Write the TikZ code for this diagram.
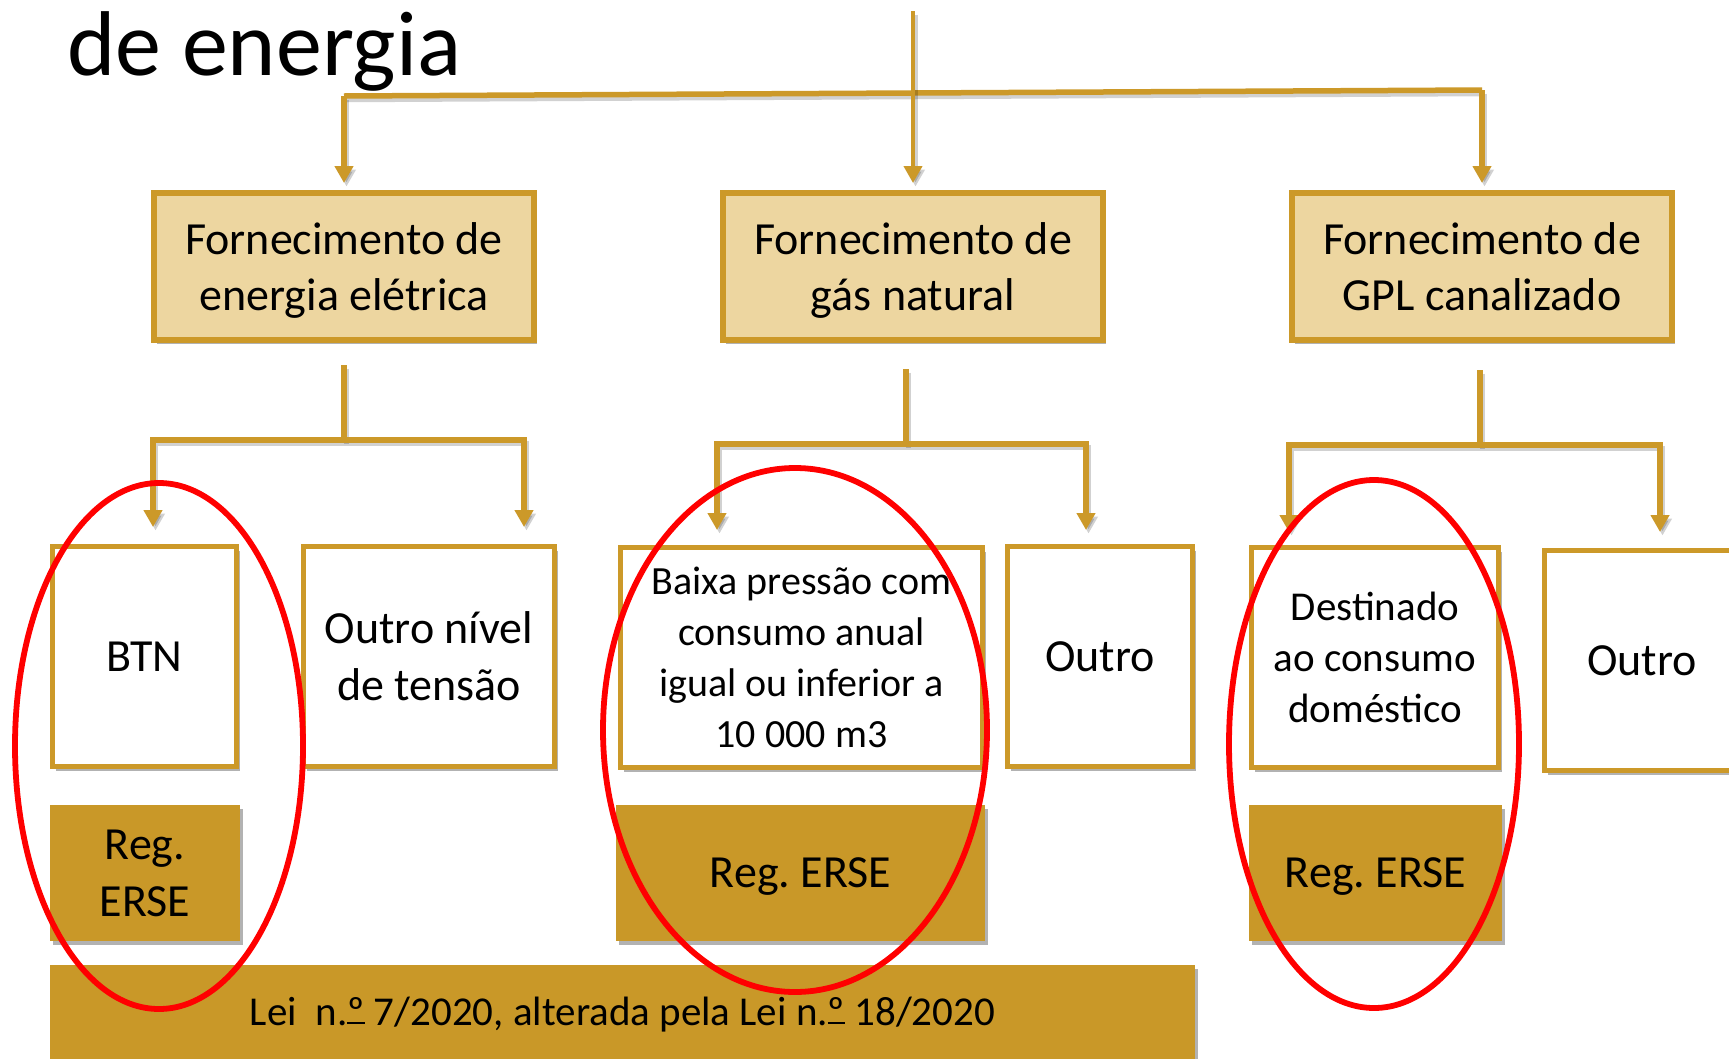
\documentclass[tikz,border=0pt]{standalone}
\usepackage{fontspec}
\setmainfont{Carlito}
\usetikzlibrary{arrows.meta,shadows}
\definecolor{gold}{RGB}{204,153,41}
\definecolor{goldfill}{RGB}{201,152,40}
\definecolor{sand}{RGB}{237,214,160}
\definecolor{ered}{RGB}{255,0,0}
\newsavebox{\ordbox}
\newcommand{\ordmasc}{\leavevmode\sbox{\ordbox}{º}\rlap{\rule[0.05em]{\wd\ordbox}{0.055em}}\usebox{\ordbox}}
\frenchspacing
\begin{document}
\begin{tikzpicture}[x=1pt,y=-1pt,
  shad/.style={drop shadow={shadow xshift=3pt,shadow yshift=-4pt,opacity=0.3,fill=black}},
  lshad/.style={preaction={draw=black, opacity=0.18, line width=5.5pt,
    transform canvas={xshift=2.5pt,yshift=-3.5pt}}},
  topbox/.style={draw=gold, line width=6pt, fill=sand, shad, align=center, inner sep=0pt,
    minimum width=380pt, minimum height=147pt, font=\fontsize{46}{56}\selectfont},
  subbox/.style={draw=gold, line width=5pt, fill=white, shad, align=center, inner sep=0pt,
    minimum height=220pt, font=\fontsize{46}{57}\selectfont},
  regbox/.style={fill=goldfill, shad, align=center, inner sep=0pt,
    minimum height=136pt, font=\fontsize{46}{57}\selectfont},
  gline/.style={lshad, draw=gold, line width=5.5pt},
  garrow/.style={gline, -{Triangle[width=18pt,length=17pt]}},
  ring/.style={draw=ered, line width=5.8pt}
]
\useasboundingbox (0,0) rectangle (1729,1058);
\clip (0,0) rectangle (1729,1058);
\fill[white] (0,0) rectangle (1729,1058);

% title fragment
\node[anchor=base west, inner sep=0pt, font=\fontsize{92}{100}\selectfont] (title) at (67,75) {de energia};

% top level boxes
\node[topbox] (top1) at (344,266.5) {Fornecimento de\\\smash{energia elétrica}};
\node[topbox] (top2) at (913,266.5) {Fornecimento de\\\smash{gás natural}};
\node[topbox] (top3) at (1482,266.5) {Fornecimento de\\\smash{GPL canalizado}};

% second level boxes
\node[subbox, minimum width=184pt] (btn) at (144.5,656.5) {BTN};
\node[subbox, minimum width=251pt] (outn) at (429,656.5) {Outro nível\\de tensão};
\node[subbox, minimum width=362pt, font=\fontsize{40}{51}\selectfont] (baixa) at (801.5,657.5)
  {Baixa pressão com\\consumo anual\\igual ou inferior a\\10 000 m3};
\node[subbox, minimum width=185pt] (outg) at (1100,656.5) {Outro};
\node[subbox, minimum width=247pt, font=\fontsize{41}{51}\selectfont] (dest) at (1375,657.5)
  {Destinado\\ao consumo\\doméstico};
\node[subbox, minimum width=195pt] (outp) at (1642,660.5) {Outro};

% regulation boxes
\node[regbox, minimum width=190pt] (reg1) at (145,873) {Reg.\\ERSE};
\node[regbox, minimum width=369pt, text height=29pt, text depth=0pt] (reg2) at (800.5,873) {Reg. ERSE};
\node[regbox, minimum width=253pt, text height=29pt, text depth=0pt] (reg3) at (1375.5,873) {Reg. ERSE};
\node[regbox, minimum width=1145pt, minimum height=100pt, font=\fontsize{41}{50}\selectfont] (lei) at (622.5,1015)
  {Lei\ \ n.\ordmasc{} 7/2020, alterada pela Lei n.\ordmasc{} 18/2020};

% top connectors
\coordinate (tstart) at (913,11);
\coordinate (hl) at (344,96);
\coordinate (hr) at (1482,90);
\draw[gline] (hl) -- (hr);
\draw[garrow, line width=4pt] (tstart) -- ([yshift=7pt]top2.north);
\draw[garrow] (hl) -- ([yshift=7pt]top1.north);
\draw[garrow] (hr) -- ([yshift=7pt]top3.north);

% group 1
\coordinate (j1) at (344,440);
\coordinate (a1) at (153,527);
\coordinate (b1) at (524,527);
\draw[gline] ([yshift=-22pt]top1.south) -- (j1);
\draw[garrow] (j1) -| (a1);
\draw[garrow] (j1) -| (b1);

% group 2
\coordinate (j2) at (906,444);
\coordinate (a2) at (717,530);
\coordinate (b2) at (1086,530);
\draw[gline] ([xshift=-7pt,yshift=-26pt]top2.south) -- (j2);
\draw[garrow] (j2) -| (a2);
\draw[garrow] (j2) -| (b2);

% group 3
\coordinate (j3) at (1480,445);
\coordinate (a3) at (1289,532);
\coordinate (b3) at (1660,532);
\draw[gline] ([xshift=-2pt,yshift=-27pt]top3.south) -- (j3);
\draw[garrow] (j3) -| (a3);
\draw[garrow] (j3) -| (b3);

% red ellipses
\draw[ring] (159,746) ellipse [x radius=144pt, y radius=263pt];
\draw[ring] (795,730) ellipse [x radius=192pt, y radius=262pt];
\draw[ring] (1374,744) ellipse [x radius=145pt, y radius=264pt];
\end{tikzpicture}
\end{document}
